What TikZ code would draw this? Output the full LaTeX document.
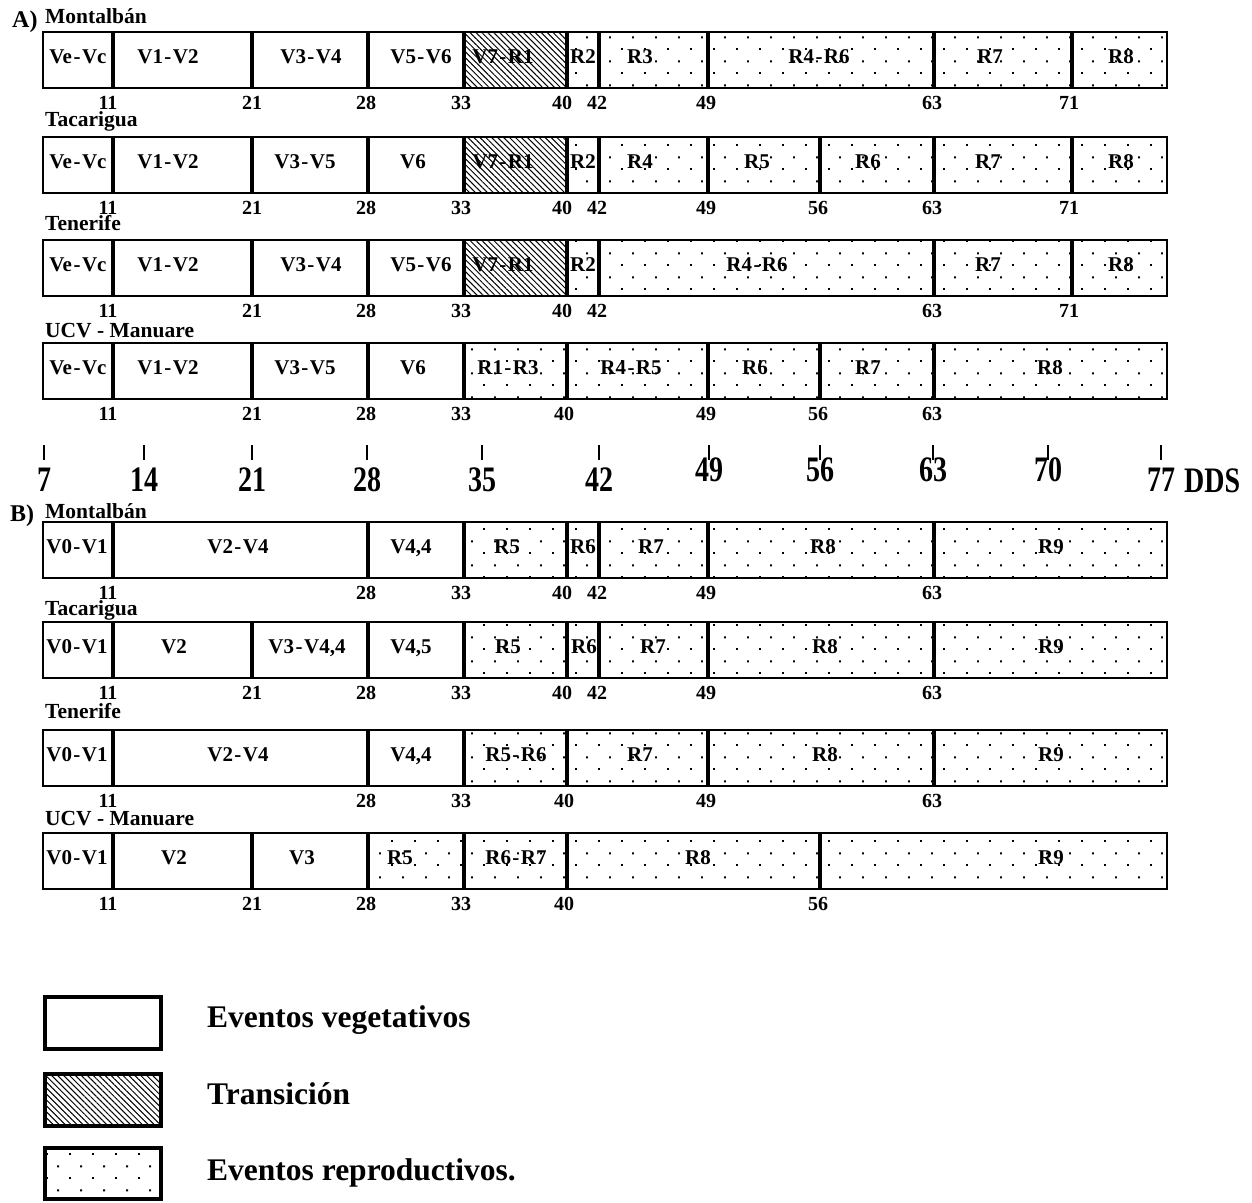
\documentclass[tikz,border=0pt]{standalone}
\usepackage{fontspec}
\setmainfont{Liberation Serif}
\usetikzlibrary{patterns.meta}
\tikzdeclarepattern{
  name=sdots,
  type=uncolored,
  bounding box={(0pt,0pt) and (23pt,24pt)},
  tile size={(23pt,24pt)},
  code={
    \fill (0pt,0pt) rectangle (2pt,2pt);
    \fill (11.5pt,12pt) rectangle (13.5pt,14pt);
  }
}
\tikzset{
  hatchfill/.style={pattern={Lines[angle=-45,distance=4.2pt,line width=1pt]},pattern color=black},
  dotfill/.style={pattern=sdots,pattern color=black},
  frame/.style={line width=2.5pt},
  divider/.style={line width=3.5pt},
  lbl/.style={font=\fontsize{21}{24}\selectfont\bfseries,anchor=base,inner sep=0pt},
  num/.style={font=\fontsize{20}{24}\selectfont\bfseries,anchor=base,inner sep=0pt},
  ttl/.style={font=\fontsize{21.5}{24}\selectfont\bfseries,anchor=base west,inner sep=0pt},
  sect/.style={font=\fontsize{24}{28}\selectfont\bfseries,anchor=base west,inner sep=0pt},
  axl/.style={font=\fontsize{28}{32}\selectfont\bfseries,anchor=base,inner sep=0pt},
  tick/.style={line width=2pt},
  legbox/.style={line width=4pt},
  legtxt/.style={font=\fontsize{31.5}{36}\selectfont\bfseries,anchor=base west,inner sep=0pt}
}
\newcommand\hy{\kern1.5pt-\kern1.5pt}
% #1 top, #2 hatch from, #3 dots from, #4 dividers
\newcommand\mkrow[4]{%
  \fill[white] (43,#1) rectangle (1167,#1+56);
  \fill[hatchfill] (#2,#1) rectangle (#3,#1+56);
  \fill[dotfill] (#3,#1) rectangle (1167,#1+56);
  \foreach \d in {#4} \draw[divider] (\d,#1) -- (\d,#1+56);
  \draw[frame] (43,#1) rectangle (1167,#1+56);
}
\newcommand\rowlabels[3]{\foreach \x/\t [count=\i] in {#3} \node[lbl] (#1l\i) at (\x,#2+31) {\t};}
\newcommand\rownums[3]{\foreach \x/\t [count=\i] in {#3} \node[num] (#1n\i) at (\x,#2+77) {\t};}
\begin{document}
\begin{tikzpicture}[x=1pt,y=-1pt]
\useasboundingbox (0,0) rectangle (1252,1202);
\fill[white] (0,0) rectangle (1252,1202);

% ---------- Section A ----------
\node[sect] (secA) at (12,27) {A)};
\node[ttl] (tA1) at (45,23) {Montalbán};
\mkrow{32}{464}{567}{113,252,368,464,567,599,708,934,1072}
\rowlabels{a1}{32}{78/Ve\hy Vc,168/V1\hy V2,311/V3\hy V4,421/V5\hy V6,503/V7\hy R1,583/R2,640/R3,819/R4\hy R6,990/R7,1121/R8}
\rownums{a1}{32}{108/11,252/21,366/28,461/33,562/40,597/42,706/49,932/63,1069/71}

\node[ttl] (tA2) at (45,126) {Tacarigua};
\mkrow{137}{464}{567}{113,252,368,464,567,599,708,820,934,1072}
\rowlabels{a2}{137}{78/Ve\hy Vc,168/V1\hy V2,305/V3\hy V5,413/V6,503/V7\hy R1,583/R2,640/R4,757/R5,868/R6,988/R7,1121/R8}
\rownums{a2}{137}{108/11,252/21,366/28,461/33,562/40,597/42,706/49,818/56,932/63,1069/71}

\node[ttl] (tA3) at (45,230) {Tenerife};
\mkrow{240}{464}{567}{113,252,368,464,567,599,934,1072}
\rowlabels{a3}{240}{78/Ve\hy Vc,168/V1\hy V2,311/V3\hy V4,421/V5\hy V6,503/V7\hy R1,583/R2,757/R4\hy R6,988/R7,1121/R8}
\rownums{a3}{240}{108/11,252/21,366/28,461/33,562/40,597/42,932/63,1069/71}

\node[ttl] (tA4) at (45,337) {UCV - Manuare};
\mkrow{343}{464}{464}{113,252,368,464,567,708,820,934}
\rowlabels{a4}{343}{78/Ve\hy Vc,168/V1\hy V2,305/V3\hy V5,413/V6,508/R1\hy R3,631/R4\hy R5,755/R6,868/R7,1050/R8}
\rownums{a4}{343}{108/11,252/21,366/28,461/33,564/40,706/49,818/56,932/63}

% ---------- Axis ----------
\foreach \x/\t/\b [count=\i] in {44/7/491,144/14/491,252/21/491,367/28/491,482/35/491,599/42/491,709/49/481,820/56/481,933/63/481,1048/70/481,1161/77/491}{
  \draw[tick] (\x,445) -- (\x,460);
  \node[axl] (ax\i) at (\x,\b) {\scalebox{1}[1.28]{\t}};
}
\node[axl,anchor=base west] (dds) at (1184,492) {\scalebox{1}[1.28]{DDS}};

% ---------- Section B ----------
\node[sect] (secB) at (10,521) {B)};
\node[ttl] (tB1) at (45,518) {Montalbán};
\mkrow{522}{464}{464}{113,368,464,567,599,708,934}
\rowlabels{b1}{522}{77/V0\hy V1,238/V2\hy V4,411/{V4,4},507/R5,583/R6,651/R7,823/R8,1051/R9}
\rownums{b1}{522}{108/11,366/28,461/33,562/40,597/42,706/49,932/63}

\node[ttl] (tB2) at (45,615) {Tacarigua};
\mkrow{622}{464}{464}{113,252,368,464,567,599,708,934}
\rowlabels{b2}{622}{77/V0\hy V1,174/V2,307/{V3\hy V4,4},411/{V4,5},508/R5,584/R6,653/R7,825/R8,1051/R9}
\rownums{b2}{622}{108/11,252/21,366/28,461/33,562/40,597/42,706/49,932/63}

\node[ttl] (tB3) at (45,718) {Tenerife};
\mkrow{730}{464}{464}{113,368,464,567,708,934}
\rowlabels{b3}{730}{77/V0\hy V1,238/V2\hy V4,411/{V4,4},516/R5\hy R6,640/R7,825/R8,1051/R9}
\rownums{b3}{730}{108/11,366/28,461/33,564/40,706/49,932/63}

\node[ttl] (tB4) at (45,825) {UCV - Manuare};
\mkrow{833}{368}{368}{113,252,368,464,567,820}
\rowlabels{b4}{833}{77/V0\hy V1,174/V2,302/V3,400/R5,516/R6\hy R7,698/R8,1051/R9}
\rownums{b4}{833}{108/11,252/21,366/28,461/33,564/40,818/56}

% ---------- Legend ----------
\draw[legbox,fill=white] (45,997) rectangle (161,1049);
\fill[white] (45,1074) rectangle (161,1126);
\fill[hatchfill] (45,1074) rectangle (161,1126);
\draw[legbox] (45,1074) rectangle (161,1126);
\fill[white] (45,1148) rectangle (161,1199);
\fill[dotfill] (45,1148) rectangle (161,1199);
\draw[legbox] (45,1148) rectangle (161,1199);
\node[legtxt] (lg1) at (207,1027) {Eventos vegetativos};
\node[legtxt] (lg2) at (207,1104) {Transición};
\node[legtxt] (lg3) at (207,1180) {Eventos reproductivos.};
\end{tikzpicture}
\end{document}
